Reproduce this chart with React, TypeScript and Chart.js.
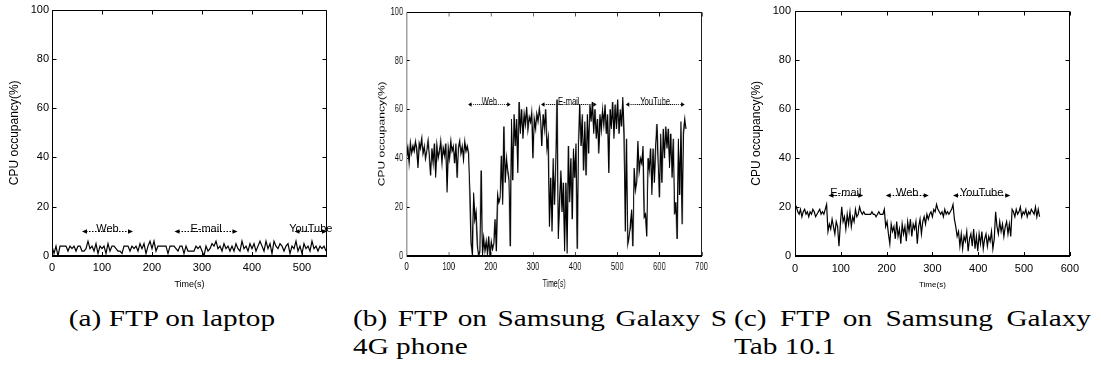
import React, { useEffect, useRef } from "react";
import { Chart, registerables } from "chart.js";

Chart.register(...registerables);

// CPU samples (percent), one list per device, sampled at a fixed interval (seconds)
const laptopStep = 4;
const laptopCpu = [
  4, 1, 4, 0, 4, 4, 4, 4, 2, 4,
  3, 4, 2, 4, 4, 2, 2, 3, 6, 3,
  4, 2, 5, 1, 4, 3, 4, 1, 5, 2,
  4, 4, 3, 2, 2, 1, 4, 4, 4, 2,
  4, 3, 4, 2, 5, 3, 5, 1, 4, 6,
  3, 6, 2, 4, 4, 4, 4, 4, 1, 4,
  4, 4, 3, 2, 4, 4, 1, 4, 2, 2,
  2, 2, 4, 3, 4, 2, 0, 4, 2, 3,
  5, 4, 6, 3, 4, 2, 5, 3, 4, 2,
  4, 2, 5, 3, 2, 6, 3, 4, 2, 5,
  3, 5, 2, 4, 6, 4, 2, 6, 3, 5,
  1, 6, 4, 3, 5, 4, 2, 4, 5, 1,
  4, 3, 6, 2, 4, 1, 5, 3, 4, 2,
  6, 3, 4, 2, 4, 3, 4, 2,
];

const phoneStep = 3;
const phoneCpu = [
  40, 44, 38, 46, 42, 45, 43, 47, 44, 36,
  46, 44, 48, 42, 45, 40, 43, 47, 41, 33,
  44, 38, 46, 32, 45, 40, 43, 47, 38, 44,
  41, 46, 26, 44, 40, 47, 43, 45, 38, 46,
  32, 44, 47, 42, 45, 40, 47, 43, 45, 42,
  27, 5, 1, 26, 15, 18, 4, 0, 2, 35,
  0, 7, 2, 6, 1, 8, 0, 6, 3, 5,
  15, 2, 25, 22, 24, 41, 21, 53, 30, 40,
  35, 31, 4, 56, 31, 58, 45, 56, 34, 63,
  50, 60, 48, 58, 54, 61, 52, 57, 55, 59,
  40, 56, 52, 58, 55, 60, 56, 45, 58, 52,
  60, 44, 48, 12, 32, 10, 40, 21, 38, 64,
  7, 22, 35, 18, 30, 2, 30, 1, 45, 22,
  40, 15, 44, 32, 46, 3, 46, 62, 45, 58,
  35, 55, 33, 58, 42, 62, 55, 63, 50, 60,
  48, 56, 42, 58, 52, 60, 54, 62, 50, 58,
  34, 60, 52, 63, 48, 62, 52, 64, 50, 60,
  53, 65, 50, 10, 48, 5, 8, 12, 19, 4,
  36, 27, 30, 47, 35, 40, 38, 45, 16, 17,
  8, 40, 35, 44, 25, 44, 30, 45, 54, 38,
  24, 50, 30, 52, 40, 53, 44, 52, 36, 50,
  32, 48, 17, 22, 7, 48, 25, 55, 13, 50,
  56, 52,
];

const tabStep = 3;
const tabCpu = [
  19, 20, 18, 17, 19, 16, 18, 19, 17, 18, 16, 18, 17, 19, 18, 16, 17, 18, 19, 17, 18, 17, 19, 21,
  10, 13, 11, 15, 12, 9, 14, 12, 4, 13, 20, 14, 16, 11, 17, 13, 18, 12, 16, 14, 19, 16, 17, 20, 18, 17,
  18, 17, 17, 17, 17, 17, 18, 17, 17, 16, 17, 18, 17, 17, 17, 19,
  12, 14, 9, 5, 13, 10, 12, 7, 14, 8, 11, 5, 13, 9, 12, 6, 14, 10, 15, 8, 13, 11, 14, 5, 12, 15, 9, 14, 16, 13, 17, 15,
  17, 18, 16, 19, 18, 21, 19, 18, 17, 18, 16, 19, 17, 18, 17, 18, 19, 21,
  15, 12, 8, 10, 4, 9, 3, 8, 6, 10, 2, 7, 9, 4, 11, 3, 8, 2, 9, 5, 10, 3, 7, 9, 4, 8, 6, 10, 3, 7,
  18, 12, 9, 14, 10, 13, 8, 12, 14, 9, 13, 8,
  19, 18, 16, 19, 17, 18, 20, 16, 18, 17, 19, 16, 18, 17, 19, 18, 17, 20, 16, 19, 16,
];

// Application phases marked with double-headed arrows
const laptopTasks = ["Web", "E-mail", "YouTube"];
const laptopTaskStart = [60, 245, 485];
const laptopTaskEnd = [162, 371, 550];
const laptopTaskLevel = 10;

const phoneTasks = ["Web", "E-mail", "YouTube"];
const phoneTaskStart = [146, 319, 520];
const phoneTaskEnd = [247, 451, 660];
const phoneTaskLevel = 62;

const tabTasks = ["E-mail", "Web", "YouTube"];
const tabTaskStart = [73, 198, 345];
const tabTaskEnd = [149, 292, 470];
const tabTaskLevel = 25;

const yMin = 0;
const yMax = 100;
const yStep = 20;
const xStep = 100;

const yTitle = "CPU occupancy(%)";
const xTitle = "Time(s)";

const captionA = "(a) FTP on laptop";
const captionB1 = "(b) FTP on Samsung Galaxy S";
const captionB2 = "4G phone";
const captionC1 = "(c) FTP on Samsung Galaxy";
const captionC2 = "Tab 10.1";

const SANS = "'Liberation Sans', Arial, Helvetica, sans-serif";

function taskArrows(names: string[], starts: number[], ends: number[], level: number, fontPx: number) {
  return {
    id: "taskArrows",
    afterDatasetsDraw(chart: any) {
      const { ctx, scales } = chart;
      const x = scales.x;
      const y = scales.y;
      const py = Math.round(y.getPixelForValue(level)) + 0.5;
      ctx.save();
      ctx.strokeStyle = "#000";
      ctx.fillStyle = "#000";
      ctx.lineWidth = 1;
      names.forEach((name, i) => {
        const x1 = x.getPixelForValue(starts[i]);
        const x2 = x.getPixelForValue(ends[i]);
        ctx.setLineDash([1.5, 1.5]);
        ctx.beginPath();
        ctx.moveTo(x1 + 4, py);
        ctx.lineTo(x2 - 4, py);
        ctx.stroke();
        ctx.setLineDash([]);
        ctx.beginPath();
        ctx.moveTo(x1, py);
        ctx.lineTo(x1 + 5, py - 2.2);
        ctx.lineTo(x1 + 5, py + 2.2);
        ctx.closePath();
        ctx.fill();
        ctx.beginPath();
        ctx.moveTo(x2, py);
        ctx.lineTo(x2 - 5, py - 2.2);
        ctx.lineTo(x2 - 5, py + 2.2);
        ctx.closePath();
        ctx.fill();
        ctx.font = `${fontPx}px ${SANS}`;
        ctx.textAlign = "center";
        ctx.textBaseline = "alphabetic";
        ctx.fillText(name, (x1 + x2) / 2, py + 0.5);
      });
      ctx.restore();
    },
  };
}

// gnuplot-style frame: thin border, heavier base line, inward tick marks on all sides
const frame = {
  id: "frame",
  afterDraw(chart: any) {
    const { ctx, chartArea: a, scales } = chart;
    const L = Math.round(a.left) + 0.5;
    const R = Math.round(a.right) - 0.5;
    const T = Math.round(a.top) + 0.5;
    const B = Math.round(a.bottom);
    ctx.save();
    ctx.strokeStyle = "#000";
    ctx.lineWidth = 1;
    ctx.beginPath();
    ctx.moveTo(L, B);
    ctx.lineTo(L, T);
    ctx.lineTo(R, T);
    ctx.lineTo(R, B);
    ctx.stroke();
    const tl = 4;
    scales.y.ticks.forEach((t: any) => {
      const py = Math.round(scales.y.getPixelForValue(t.value)) + 0.5;
      ctx.beginPath();
      ctx.moveTo(L, py);
      ctx.lineTo(L + tl, py);
      ctx.moveTo(R, py);
      ctx.lineTo(R - tl, py);
      ctx.stroke();
    });
    scales.x.ticks.forEach((t: any) => {
      const px = Math.round(scales.x.getPixelForValue(t.value)) + 0.5;
      ctx.beginPath();
      ctx.moveTo(px, B);
      ctx.lineTo(px, B - tl);
      ctx.moveTo(px, T);
      ctx.lineTo(px, T + tl);
      ctx.stroke();
    });
    ctx.lineWidth = 2;
    ctx.beginPath();
    ctx.moveTo(L - 0.5, B);
    ctx.lineTo(R + 0.5, B);
    ctx.stroke();
    ctx.restore();
  },
};

type PanelProps = {
  left: number;
  squeeze: number;
  width: number;
  height: number;
  yAxisWidth: number;
  padTop: number;
  padRight: number;
  xAxisHeight: number;
  xMax: number;
  step: number;
  cpu: number[];
  names: string[];
  starts: number[];
  ends: number[];
  level: number;
  tickPx: number;
  labelPx: number;
  yTitlePx: number;
  yTitlePad: number;
  xTitlePx: number;
  xTitlePad: number;
  yTickPad: number;
  xTickPad: number;
  lineWidth: number;
};

function Panel(p: PanelProps) {
  const ref = useRef<HTMLCanvasElement | null>(null);
  useEffect(() => {
    if (!ref.current) return;
    const points = p.cpu.map((v, i) => ({ x: i * p.step, y: v }));
    const chart = new Chart(ref.current, {
      type: "line",
      data: {
        datasets: [
          {
            data: points,
            borderColor: "#000",
            borderWidth: p.lineWidth,
            pointRadius: 0,
            tension: 0,
            fill: false,
          },
        ],
      },
      options: {
        responsive: false,
        maintainAspectRatio: false,
        animation: false,
        events: [],
        layout: {
          autoPadding: false,
          padding: { left: 0, top: p.padTop, right: p.padRight, bottom: 0 },
        },
        plugins: { legend: { display: false }, tooltip: { enabled: false } },
        scales: {
          x: {
            type: "linear",
            min: 0,
            max: p.xMax,
            grid: { display: false, drawTicks: false },
            border: { display: false },
            ticks: {
              stepSize: xStep,
              includeBounds: false,
              maxRotation: 0,
              padding: p.xTickPad,
              color: "#000",
              font: { family: SANS, size: p.tickPx },
            },
            title: {
              display: true,
              text: xTitle,
              color: "#000",
              font: { family: SANS, size: p.xTitlePx },
              padding: { top: 0, bottom: p.xTitlePad },
            },
            afterFit: (s: any) => {
              s.height = p.xAxisHeight;
            },
          },
          y: {
            type: "linear",
            min: yMin,
            max: yMax,
            grid: { display: false, drawTicks: false },
            border: { display: false },
            ticks: {
              stepSize: yStep,
              padding: p.yTickPad,
              color: "#000",
              font: { family: SANS, size: p.tickPx },
            },
            title: {
              display: true,
              text: yTitle,
              color: "#000",
              font: { family: SANS, size: p.yTitlePx },
              padding: { top: p.yTitlePad, bottom: 0 },
            },
            afterFit: (s: any) => {
              s.width = p.yAxisWidth;
            },
          },
        },
      },
      plugins: [taskArrows(p.names, p.starts, p.ends, p.level, p.labelPx), frame],
    });
    return () => chart.destroy();
  }, []);
  return (
    <div
      style={{
        position: "absolute",
        left: p.left,
        top: 0,
        width: p.width,
        height: p.height,
        transform: `scaleX(${p.squeeze})`,
        transformOrigin: "0 0",
      }}
    >
      <canvas ref={ref} width={p.width} height={p.height} style={{ display: "block" }} />
    </div>
  );
}

// Caption lines: Times-metric serif widened to approximate Computer Modern proportions
const CAPTION_WIDEN = 1.22;

function CaptionLine(props: { text: string; left: number; top: number; width?: number; center?: boolean }) {
  const inner = props.width ? props.width / CAPTION_WIDEN : undefined;
  return (
    <div
      style={{
        position: "absolute",
        left: props.left,
        top: props.top,
        width: inner,
        transform: `scaleX(${CAPTION_WIDEN})`,
        transformOrigin: "0 0",
        fontFamily: "'Liberation Serif', 'DejaVu Serif', serif",
        fontSize: 24,
        lineHeight: "28px",
        color: "#000",
        whiteSpace: "nowrap",
        textAlign: props.center ? "center" : "justify",
        textAlignLast: props.center ? "center" : props.width ? "justify" : "left",
      }}
    >
      {props.text}
    </div>
  );
}

export default function App() {
  return (
    <div
      style={{
        position: "fixed",
        left: 0,
        top: 0,
        width: 1101,
        height: 375,
        background: "#fff",
        overflow: "hidden",
      }}
    >
      <Panel
        left={0}
        squeeze={1}
        width={345}
        height={300}
        yAxisWidth={52}
        padTop={6}
        padRight={18}
        xAxisHeight={44}
        xMax={550}
        step={laptopStep}
        cpu={laptopCpu}
        names={laptopTasks}
        starts={laptopTaskStart}
        ends={laptopTaskEnd}
        level={laptopTaskLevel}
        tickPx={11}
        labelPx={11}
        yTitlePx={12}
        yTitlePad={7}
        xTitlePx={9}
        xTitlePad={10}
        yTickPad={3}
        xTickPad={5}
        lineWidth={1.2}
      />
      <Panel
        left={370}
        squeeze={0.69}
        width={510}
        height={300}
        yAxisWidth={53}
        padTop={6}
        padRight={29.5}
        xAxisHeight={44}
        xMax={700}
        step={phoneStep}
        cpu={phoneCpu}
        names={phoneTasks}
        starts={phoneTaskStart}
        ends={phoneTaskEnd}
        level={phoneTaskLevel}
        tickPx={11}
        labelPx={11}
        yTitlePx={12}
        yTitlePad={10}
        xTitlePx={10}
        xTitlePad={10}
        yTickPad={5}
        xTickPad={4}
        lineWidth={1.8}
      />
      <Panel
        left={740}
        squeeze={1}
        width={345}
        height={300}
        yAxisWidth={55}
        padTop={6}
        padRight={15}
        xAxisHeight={44}
        xMax={600}
        step={tabStep}
        cpu={tabCpu}
        names={tabTasks}
        starts={tabTaskStart}
        ends={tabTaskEnd}
        level={tabTaskLevel}
        tickPx={11}
        labelPx={11}
        yTitlePx={12}
        yTitlePad={9}
        xTitlePx={8}
        xTitlePad={10}
        yTickPad={4}
        xTickPad={6}
        lineWidth={1.2}
      />
      <CaptionLine text={captionA} left={22} top={304} width={300} center />
      <CaptionLine text={captionB1} left={353} top={304} width={374} />
      <CaptionLine text={captionB2} left={353} top={332} />
      <CaptionLine text={captionC1} left={734} top={304} width={357} />
      <CaptionLine text={captionC2} left={734} top={332} />
    </div>
  );
}
